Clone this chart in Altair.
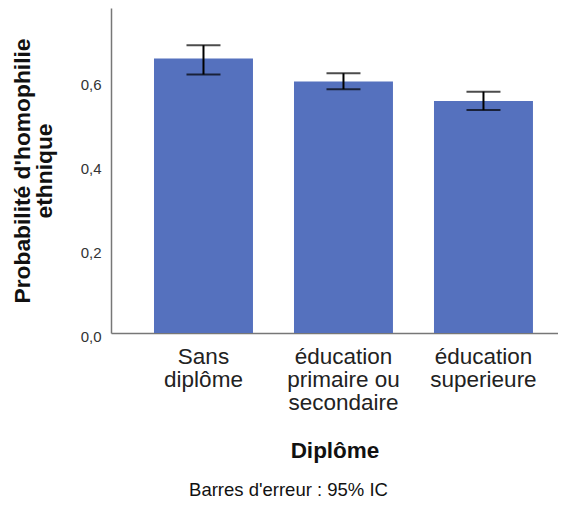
import json
import altair as alt
import pandas as pd

categories = ["Sans diplôme", "éducation primaire ou secondaire", "éducation superieure"]
label_lines = [["Sans", "diplôme"], ["éducation", "primaire ou", "secondaire"], ["éducation", "superieure"]]
means = [0.655, 0.600, 0.554]
ci_low = [0.617, 0.582, 0.532]
ci_high = [0.687, 0.620, 0.576]
y_ticks = [0.0, 0.2, 0.4, 0.6]

df = pd.DataFrame({"Diplôme": categories, "mean": means, "lo": ci_low, "hi": ci_high})
label_map = json.dumps(dict(zip(categories, label_lines)), ensure_ascii=False)

FONT = "Liberation Sans"

x_enc = alt.X(
    "Diplôme:N",
    sort=categories,
    scale=alt.Scale(paddingInner=0.293, paddingOuter=0.243, align=0.632),
    axis=alt.Axis(
        title="Diplôme",
        labelAngle=0,
        labelExpr=f"({label_map})[datum.value]",
        labelFontSize=22.5,
        labelLineHeight=23,
        labelColor="#222222",
        labelPadding=12,
        ticks=False,
        titleFontSize=22.5,
        titleFontWeight="bold",
        titleColor="#111111",
        titlePadding=26,
        domainColor="#777777",
        domainWidth=1.5,
    ),
)

y_scale = alt.Scale(domain=[0, 0.7757], nice=False, zero=True)
y_axis = alt.Axis(
    values=y_ticks,
    labelExpr="replace(format(datum.value, '.1f'), '.', ',')",
    ticks=False,
    grid=False,
    labelFontSize=15,
    labelColor="#333333",
    labelPadding=10,
    labelOffset=3,
    title=["Probabilité d'homophilie", "ethnique"],
    titleFontSize=22.8,
    titleFontWeight="bold",
    titleColor="#111111",
    titleLineHeight=22,
    titlePadding=24,
    domainColor="#777777",
    domainWidth=1.5,
)

bars = alt.Chart(df).mark_bar(color="#5571BE").encode(
    x=x_enc,
    y=alt.Y("mean:Q", scale=y_scale, axis=y_axis),
)

err = alt.Chart(df).mark_rule(color="black", strokeWidth=2).encode(
    x=alt.X("Diplôme:N", sort=categories),
    y="lo:Q",
    y2="hi:Q",
)
cap_lo = alt.Chart(df).mark_tick(color="black", thickness=2, size=34).encode(
    x=alt.X("Diplôme:N", sort=categories),
    y="lo:Q",
)
cap_hi = alt.Chart(df).mark_tick(color="black", thickness=2, size=34).encode(
    x=alt.X("Diplôme:N", sort=categories),
    y="hi:Q",
)

chart = (
    alt.layer(bars, err, cap_lo, cap_hi)
    .properties(
        width=447,
        height=325,
        autosize=alt.AutoSizeParams(type="none"),
        padding={"left": 103, "top": 0, "right": 0, "bottom": 168},
        title=alt.TitleParams(
            "Barres d'erreur : 95% IC",
            orient="bottom",
            anchor="middle",
            fontSize=18.5,
            fontWeight="normal",
            color="#111111",
            dx=-46,
            offset=19,
            font=FONT,
        ),
    )
    .configure(font=FONT)
    .configure_axis(labelFont=FONT, titleFont=FONT)
    .configure_view(stroke=None)
)

chart.save("out.html", embed_options={"renderer": "svg", "actions": False})
